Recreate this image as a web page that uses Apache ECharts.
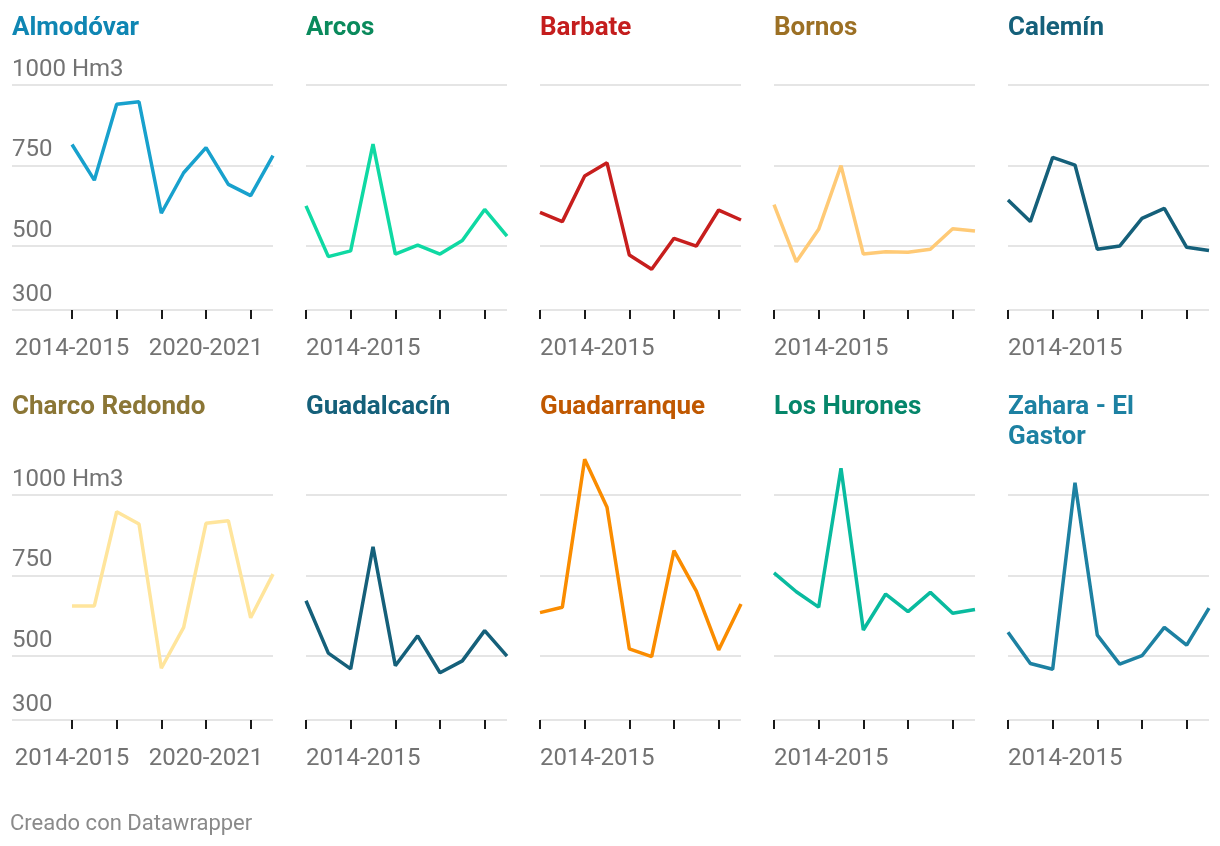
<!DOCTYPE html>
<html><head><meta charset="utf-8">
<script src="https://cdn.jsdelivr.net/npm/echarts@6/dist/echarts.min.js"></script>
<style>html,body{margin:0;padding:0;background:#fff}#c{width:1220px;height:846px}</style>
</head><body><div id="c"></div>
<script>
// ---- data ----
const years = ['2014-2015','2015-2016','2016-2017','2017-2018','2018-2019','2019-2020','2020-2021','2021-2022','2022-2023','2023-2024'];
const seriesNames = ['Almodóvar','Arcos','Barbate','Bornos','Calemín','Charco Redondo','Guadalcacín','Guadarranque','Los Hurones','Zahara - El Gastor'];
const almodovar    = [815, 704, 940, 948, 601, 727, 805, 691, 656, 780];
const arcos        = [624, 466, 484, 816, 474, 502, 474, 516, 613, 530];
const barbate      = [604, 575, 717, 758, 471, 427, 523, 499, 611, 580];
const bornos       = [628, 450, 551, 749, 474, 481, 480, 489, 553, 546];
const calemin      = [642, 575, 775, 751, 489, 499, 585, 616, 495, 485];
const charco       = [655, 655, 948, 910, 461, 588, 912, 920, 618, 754];
const guadalcacin  = [671, 508, 459, 839, 469, 562, 447, 484, 578, 499];
const guadarranque = [634, 651, 1111, 962, 521, 497, 827, 701, 518, 661];
const hurones      = [758, 699, 651, 1083, 580, 692, 637, 697, 632, 644];
const zahara       = [573, 476, 458, 1038, 564, 474, 500, 588, 533, 648];
const yTickValues  = [300, 500, 750, 1000];
const yUnitLabel   = '1000 Hm3';
const footerText   = 'Creado con Datawrapper';

const seriesData = [almodovar, arcos, barbate, bornos, calemin, charco, guadalcacin, guadarranque, hurones, zahara];

// ---- styles ----
const lineColors  = ['#18a1cd','#0fd9a3','#c71e1d','#ffca76','#15607a','#ffe59c','#15607a','#fa8c00','#09bb9f','#1d81a2'];
const titleColors = ['#0f86b3','#0a8a5c','#c41d1d','#9c7024','#15607a','#8b7636','#15607a','#c05800','#05866a','#1d81a2'];
const colLeft = [72, 306, 540, 774, 1008];
const rowTop = [36.8, 446.8];
const gridW = 201, gridH = 273.2;
const titleTop = [13, 392];
const FONT = 'Roboto';
const grayText = '#737373';
const gridColor = '#e5e5e5';

const grids = [], xAxes = [], yAxes = [], series = [], titles = [];
seriesNames.forEach((nm, i) => {
  const r = Math.floor(i / 5), c = i % 5, first = c === 0;
  grids.push({left: colLeft[c], top: rowTop[r], width: gridW, height: gridH, containLabel: false, outerBoundsMode: 'none'});
  xAxes.push({
    type: 'category', gridIndex: i, data: years, boundaryGap: false,
    axisLine: {show: false, onZero: false},
    axisTick: {show: true, interval: idx => idx % 2 === 0, length: 9, lineStyle: {color: '#1a1a1a', width: 2}},
    axisLabel: {interval: idx => idx === 0 || (first && idx === 6), fontSize: 24, color: grayText, fontFamily: FONT,
      margin: 27, align: first ? 'center' : 'left', hideOverlap: false},
    splitLine: {show: false}
  });
  yAxes.push({
    type: 'value', gridIndex: i, min: 300, max: 1150,
    axisLine: {show: false},
    axisTick: {show: first, customValues: yTickValues, length: 60, lineStyle: {color: gridColor, width: 2}},
    axisLabel: {show: first, customValues: yTickValues, inside: false, align: 'left', margin: 60, verticalAlign: 'bottom',
      padding: [0, 0, 3, 0], fontSize: 24, color: grayText, fontFamily: FONT,
      formatter: v => v === 1000 ? yUnitLabel : String(v)},
    splitLine: {show: true, lineStyle: {color: gridColor, width: 2}}
  });
  series.push({
    type: 'line', name: nm, xAxisIndex: i, yAxisIndex: i, data: seriesData[i],
    symbol: 'none', lineStyle: {width: 3.5, color: lineColors[i]}, itemStyle: {color: lineColors[i]},
    emphasis: {disabled: true}, silent: true, z: 3
  });
  titles.push({
    text: nm, left: first ? 12 : colLeft[c], top: titleTop[r], padding: 0,
    textStyle: {fontSize: 26, fontWeight: 'bold', color: titleColors[i], fontFamily: FONT, lineHeight: 30, width: 205, overflow: 'break'}
  });
});
titles.push({text: footerText, left: 10, top: 813, padding: 0,
  textStyle: {fontSize: 22, fontWeight: 'normal', color: '#8a8a8a', fontFamily: FONT}});

const chart = echarts.init(document.getElementById('c'), null, {renderer: 'canvas'});
chart.setOption({
  animation: false, backgroundColor: '#ffffff',
  title: titles, grid: grids, xAxis: xAxes, yAxis: yAxes, series: series,
  tooltip: {show: false}
});
</script></body></html>
